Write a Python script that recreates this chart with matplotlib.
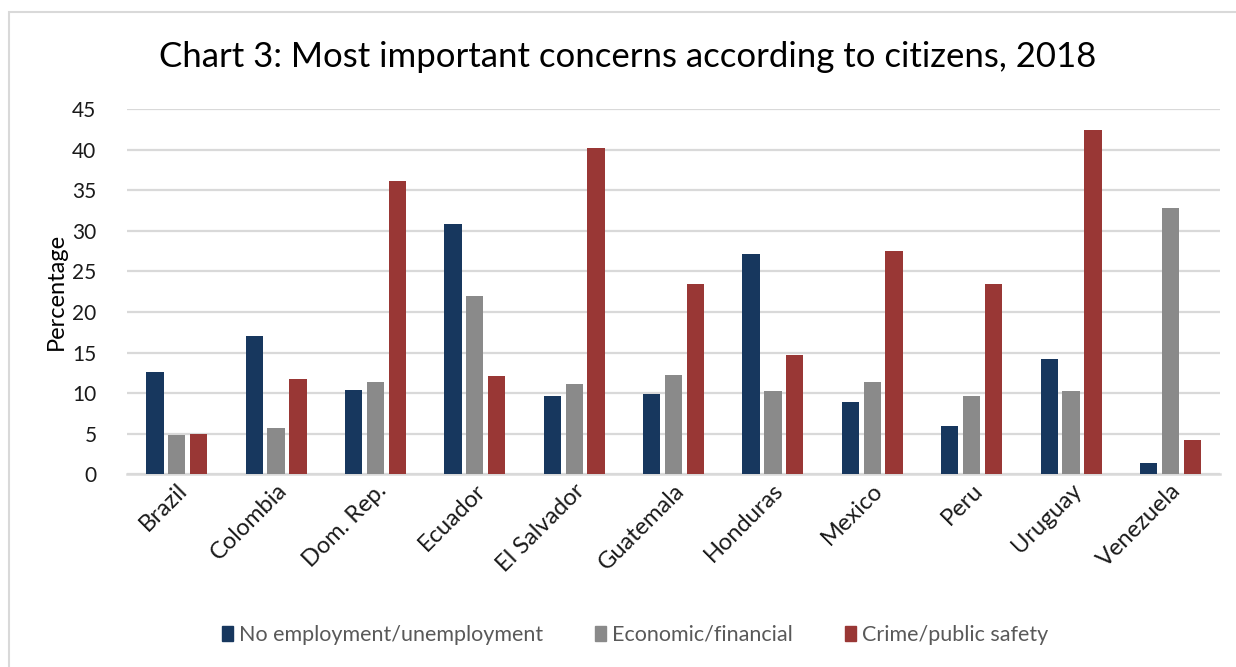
import numpy as np
from matplotlib import pyplot as plt
from matplotlib.patches import Rectangle

plt.rcParams['font.family'] = ['Lato', 'DejaVu Sans']

countries = ["Brazil", "Colombia", "Dom. Rep.", "Ecuador", "El Salvador", "Guatemala",
             "Honduras", "Mexico", "Peru", "Uruguay", "Venezuela"]
unemployment = [12.6, 17.0, 10.4, 30.8, 9.6, 9.9, 27.1, 8.9, 5.9, 14.2, 1.4]
economic = [4.8, 5.7, 11.4, 22.0, 11.1, 12.2, 10.3, 11.4, 9.7, 10.2, 32.8]
crime = [5.0, 11.7, 36.1, 12.1, 40.2, 23.4, 14.7, 27.5, 23.4, 42.4, 4.2]

series = [
    ("No employment/unemployment", unemployment, "#17375E"),
    ("Economic/financial", economic, "#8A8A8A"),
    ("Crime/public safety", crime, "#993735"),
]

fig = plt.figure(figsize=(12.36, 6.67), dpi=100)
ax = fig.add_axes([0.1028, 0.2889, 0.8843, 0.5477])

x = np.arange(len(countries))
width = 0.174
step = 0.22
for i, (name, vals, color) in enumerate(series):
    ax.bar(x + (i - 1) * step, vals, width, color=color, label=name, zorder=3)

ax.set_xlim(-0.5, len(countries) - 0.5)
ax.set_ylim(0, 45)
ax.set_yticks(range(0, 46, 5))
ax.yaxis.grid(True, color="#D9D9D9", linewidth=1.6, zorder=0)
ax.set_axisbelow(True)
for side in ["top", "right", "left"]:
    ax.spines[side].set_visible(False)
ax.spines["bottom"].set_color("#D9D9D9")
ax.spines["bottom"].set_linewidth(1.8)
ax.tick_params(axis="both", length=0, labelsize=15, colors="#1A1A1A")
ax.tick_params(axis="y", pad=22)
ax.set_xticks(x)
ax.set_xticklabels(countries, rotation=45, ha="right", va="top", rotation_mode="anchor", fontsize=17)
ax.tick_params(axis="x", pad=4)
ax.set_ylabel("Percentage", fontsize=17, labelpad=4)

fig.text(0.508, 0.915, "Chart 3: Most important concerns according to citizens, 2018",
         ha="center", va="center", fontsize=25, color="#000000")

handles = [Rectangle((0, 0), 1, 1, color=c) for _, _, c in series]
fig.legend(handles, [s[0] for s in series], loc="center", bbox_to_anchor=(0.514, 0.048),
           ncol=3, frameon=False, fontsize=15.5, handlelength=0.5, handleheight=0.75,
           handletextpad=0.3, columnspacing=2.4, labelcolor="#595959")

# light frame around the whole chart
fig.patches.append(Rectangle((8.5 / 1236, -0.1), 1.2, 1.1 - 12.5 / 667,
                             transform=fig.transFigure, fill=False,
                             edgecolor="#D9D9D9", linewidth=1.5))

fig.savefig("out.png", dpi=100)
